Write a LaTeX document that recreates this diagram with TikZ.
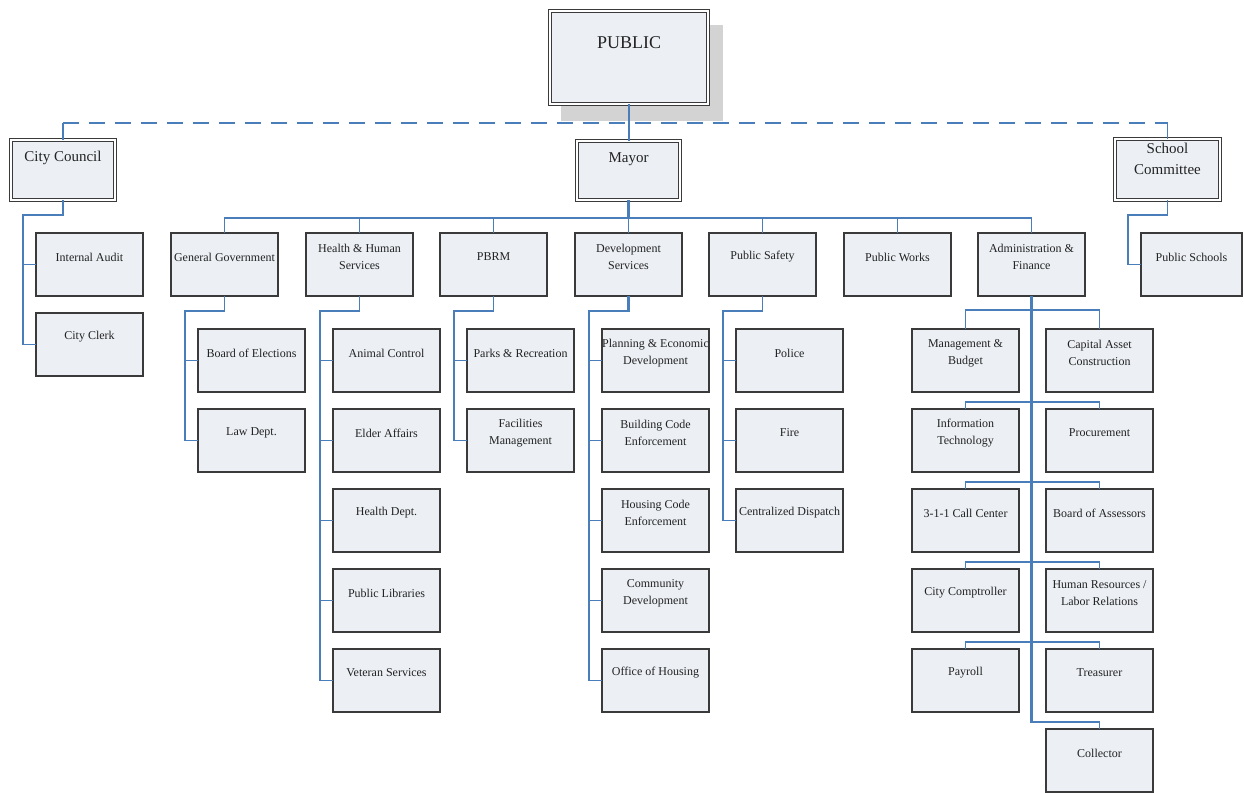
\documentclass[tikz,border=0pt]{standalone}
\usepackage{fontspec}
\setmainfont{Liberation Serif}
\usetikzlibrary{calc}
\definecolor{conncol}{HTML}{4A7EBB}
\definecolor{boxfill}{HTML}{ECF0F5}
\definecolor{boxline}{HTML}{3A3A3A}
\definecolor{shadowgray}{HTML}{D3D3D3}
\definecolor{txt}{HTML}{222222}
\tikzset{
  box/.style={draw=boxline, line width=1.2pt, fill=boxfill, minimum width=107pt,
    minimum height=63pt, anchor=north west, inner sep=0pt, outer sep=0pt},
  dbox/.style={draw=boxline, line width=1.1pt, double=white, double distance=1.8pt,
    fill=boxfill, inner sep=0pt, outer sep=0pt},
  lbl/.style={font=\fontsize{12}{17}\selectfont, align=center, text=txt, inner sep=0pt},
  biglbl/.style={font=\fontsize{15}{21.5}\selectfont, align=center, text=txt, inner sep=0pt},
  conn/.style={draw=conncol, line width=1.3pt},
  trunk/.style={draw=conncol, line width=2.2pt},
  dashconn/.style={draw=conncol, line width=2pt, dash pattern=on 16pt off 10pt},
}
\newcommand\orgbox[5][]{%
  \node[box,#1] (#2) at (#3,#4) {};
  \node[lbl] (#2-t) at ([yshift=-24pt]#2.north) {#5};}
\begin{document}
\begin{tikzpicture}[x=1pt,y=-1pt]
\useasboundingbox (0,0) rectangle (1244,792);
% shadow of PUBLIC
\fill[shadowgray] (561,25) rectangle (723,121);
% top-level boxes
\node[dbox, minimum width=158pt, minimum height=93pt] (pub) at (629,57.5) {};
\node[lbl, font=\fontsize{18}{22}\selectfont] (pub-t) at (629,43) {PUBLIC};
\node[dbox, minimum width=104pt, minimum height=60pt] (cc) at (63,170) {};
\node[biglbl] (cc-t) at (63,158) {City Council};
\node[dbox, minimum width=103pt, minimum height=59pt] (mayor) at (628.5,170.5) {};
\node[biglbl] (mayor-t) at (628.5,159) {Mayor};
\node[dbox, minimum width=105pt, minimum height=61pt] (sc) at (1167.5,169.5) {};
\node[biglbl] (sc-t) at (1167.5,159) {School\\Committee};
% city council children
\orgbox{ia}{36}{233}{Internal Audit}
\orgbox{clerk}{36}{313}{City Clerk}
% school committee child
\orgbox[minimum width=101pt]{ps}{1141}{233}{Public Schools}
% departments
\orgbox{gg}{171}{233}{General Government}
\orgbox{hh}{306}{233}{Health \& Human\\Services}
\orgbox{pbrm}{440}{233}{PBRM}
\orgbox{ds}{575}{233}{Development\\Services}
\orgbox{psaf}{709}{233}{Public Safety}
\orgbox{pw}{844}{233}{Public Works}
\orgbox{af}{978}{233}{Administration \&\\Finance}
% general government
\orgbox{boe}{198}{329}{Board of Elections}
\orgbox{law}{198}{409}{Law Dept.}
% health & human services
\orgbox{ac}{333}{329}{Animal Control}
\orgbox{ea}{333}{409}{Elder Affairs}
\orgbox{hd}{333}{489}{Health Dept.}
\orgbox{pl}{333}{569}{Public Libraries}
\orgbox{vs}{333}{649}{Veteran Services}
% PBRM
\orgbox{pr}{467}{329}{Parks \& Recreation}
\orgbox{fm}{467}{409}{Facilities\\Management}
% development services
\orgbox{ped}{602}{329}{Planning \& Economic\\Development}
\orgbox{bce}{602}{409}{Building Code\\Enforcement}
\orgbox{hce}{602}{489}{Housing Code\\Enforcement}
\orgbox{cd}{602}{569}{Community\\Development}
\orgbox{oh}{602}{649}{Office of Housing}
% public safety
\orgbox{pol}{736}{329}{Police}
\orgbox{fire}{736}{409}{Fire}
\orgbox{cdisp}{736}{489}{Centralized Dispatch}
% administration & finance
\orgbox{mb}{912}{329}{Management \&\\Budget}
\orgbox{cac}{1046}{329}{Capital Asset\\Construction}
\orgbox{it}{912}{409}{Information\\Technology}
\orgbox{proc}{1046}{409}{Procurement}
\orgbox{cc311}{912}{489}{3-1-1 Call Center}
\orgbox{boa}{1046}{489}{Board of Assessors}
\orgbox{comp}{912}{569}{City Comptroller}
\orgbox{hr}{1046}{569}{Human Resources /\\Labor Relations}
\orgbox{pay}{912}{649}{Payroll}
\orgbox{treas}{1046}{649}{Treasurer}
\orgbox{coll}{1046}{729}{Collector}
% ---- connectors ----
\coordinate (dl) at (63,123);
\coordinate (dr) at (1167.5,123);
\draw[dashconn] (dl) -- (dr);
\draw[conn] (dl) -- (cc.north);
\draw[conn] (dr) -- (sc.north);
\draw[conn] (pub.south) -- (pub.south |- mayor.north);
\coordinate (mbar) at (628.5,218);
\draw[trunk] (mayor.south) -- (mbar);
\draw[conn] (gg.north) |- (mbar) -| (af.north);
\foreach \n in {hh,pbrm,ds,psaf,pw} \draw[conn] (\n.north) -- (\n.north |- mbar);
% city council
\draw[conn] (cc.south) -- ++(0,15) -| ([xshift=-13pt]clerk.west) -- (clerk.west);
\draw[conn] (ia.west) -- ++(-13,0);
% school committee
\draw[conn] (sc.south) -- ++(0,15) -| ([xshift=-13pt]ps.west) -- (ps.west);
% general government
\draw[conn] (gg.south) -- ++(0,15) -| ([xshift=-13pt]law.west) -- (law.west);
\draw[conn] (boe.west) -- ++(-13,0);
% health & human services
\draw[conn] (hh.south) -- ++(0,15) -| ([xshift=-13pt]vs.west) -- (vs.west);
\foreach \n in {ac,ea,hd,pl} \draw[conn] (\n.west) -- ++(-13,0);
% PBRM
\draw[conn] (pbrm.south) -- ++(0,15) -| ([xshift=-13pt]fm.west) -- (fm.west);
\draw[conn] (pr.west) -- ++(-13,0);
% development services
\draw[trunk] (ds.south) -- ++(0,15) -| ([xshift=-13pt]oh.west);
\draw[conn] ([xshift=-13pt]oh.west) -- (oh.west);
\foreach \n in {ped,bce,hce,cd} \draw[conn] (\n.west) -- ++(-13,0);
% public safety
\draw[conn] (psaf.south) -- ++(0,15) -| ([xshift=-13pt]cdisp.west) -- (cdisp.west);
\foreach \n in {pol,fire} \draw[conn] (\n.west) -- ++(-13,0);
% administration & finance
\draw[trunk] (af.south) |- ([yshift=7pt]coll.north);
\draw[conn] ([yshift=7pt]coll.north) -- (coll.north);
\draw[conn] (mb.north) -- ++(0,-19) -| (cac.north);
\draw[conn] (it.north) -- ++(0,-7) -| (proc.north);
\draw[conn] (cc311.north) -- ++(0,-7) -| (boa.north);
\draw[conn] (comp.north) -- ++(0,-7) -| (hr.north);
\draw[conn] (pay.north) -- ++(0,-7) -| (treas.north);
\end{tikzpicture}
\end{document}
